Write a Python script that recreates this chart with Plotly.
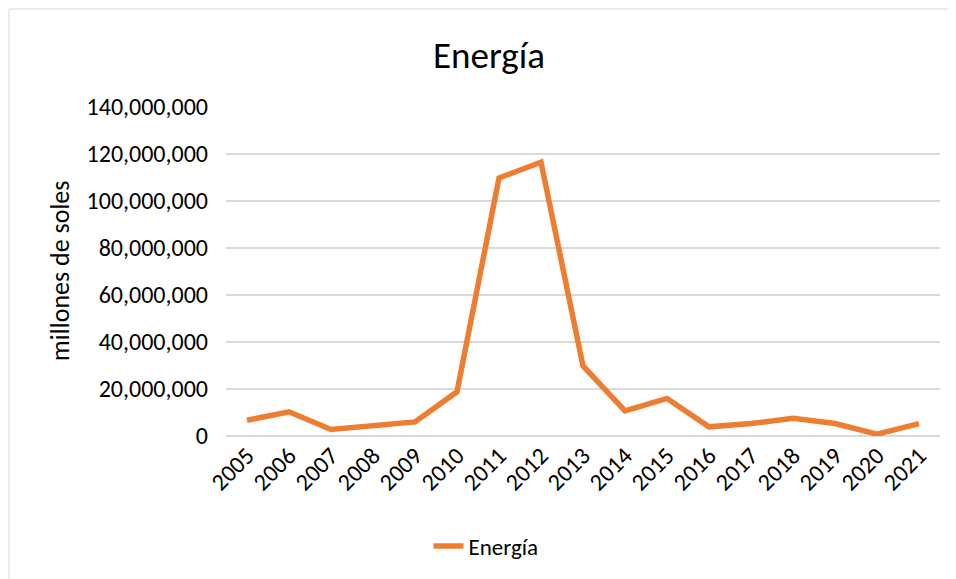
import plotly.graph_objects as go

FONT_FAMILY = "Carlito, Calibri, Lato, sans-serif"
LINE_COLOR = "#ED7D31"
GRID_COLOR = "#d9d9d9"

years = [str(y) for y in range(2005, 2022)]
energia = [
    6.7e6, 10.3e6, 2.8e6, 4.6e6, 6.0e6, 18.8e6, 109.8e6, 116.5e6, 29.8e6,
    10.7e6, 16.0e6, 3.9e6, 5.3e6, 7.5e6, 5.3e6, 0.8e6, 5.3e6,
]
y_ticks = [0, 20e6, 40e6, 60e6, 80e6, 100e6, 120e6, 140e6]
y_tick_labels = ["0", "20,000,000", "40,000,000", "60,000,000", "80,000,000",
                 "100,000,000", "120,000,000", "140,000,000"]

# the page body adds an 8px margin, so the figure is a bit smaller than the window
W, H = 948, 571
L, R, T, B = 218, 16, 99, 143
PW, PH = W - L - R, H - T - B

fig = go.Figure(
    go.Scatter(
        x=years,
        y=energia,
        mode="lines",
        name="Energía",
        line=dict(color=LINE_COLOR, width=5.5),
    )
)

fig.update_layout(
    width=W,
    height=H,
    font=dict(family=FONT_FAMILY, size=24, color="#000000"),
    paper_bgcolor="white",
    plot_bgcolor="white",
    margin=dict(l=L, r=R, t=T, b=B, autoexpand=False),
    title=dict(
        text="Energía",
        font=dict(size=37, color="#000000"),
        xref="container", x=481 / W, xanchor="center",
        yref="container", y=1 - 47 / H, yanchor="middle",
    ),
    showlegend=True,
    legend=dict(
        orientation="h",
        xref="container", x=478 / W, xanchor="center",
        yref="container", y=1 - 538 / H, yanchor="middle",
        font=dict(size=23),
    ),
    shapes=[
        dict(
            type="rect", xref="paper", yref="paper",
            x0=(1 - L) / PW, x1=(W + 5 - L) / PW,
            y0=-(B + 20) / PH, y1=(T - 1) / PH + 1,
            line=dict(color=GRID_COLOR, width=1),
            layer="below",
        )
    ],
    annotations=[
        dict(
            text="millones de soles",
            xref="paper", yref="paper",
            x=(52 - L) / PW, y=(T + PH - 263) / PH,
            xanchor="center", yanchor="middle",
            textangle=-90, showarrow=False,
            font=dict(size=26),
        )
    ],
)

fig.update_xaxes(
    type="category",
    range=[-0.5, len(years) - 0.5],
    tickangle=-45,
    showgrid=False,
    showline=False,
    zeroline=False,
    ticks="",
    automargin=False,
    tickfont=dict(size=24),
)
fig.update_yaxes(
    range=[0, 140e6],
    tickvals=y_ticks,
    ticktext=y_tick_labels,
    showgrid=True,
    gridcolor=GRID_COLOR,
    gridwidth=1.5,
    zeroline=True,
    zerolinecolor=GRID_COLOR,
    zerolinewidth=1.5,
    ticks="",
    automargin=False,
    ticklabelstandoff=17,
    tickfont=dict(size=24),
)

fig.write_html("out.html")
